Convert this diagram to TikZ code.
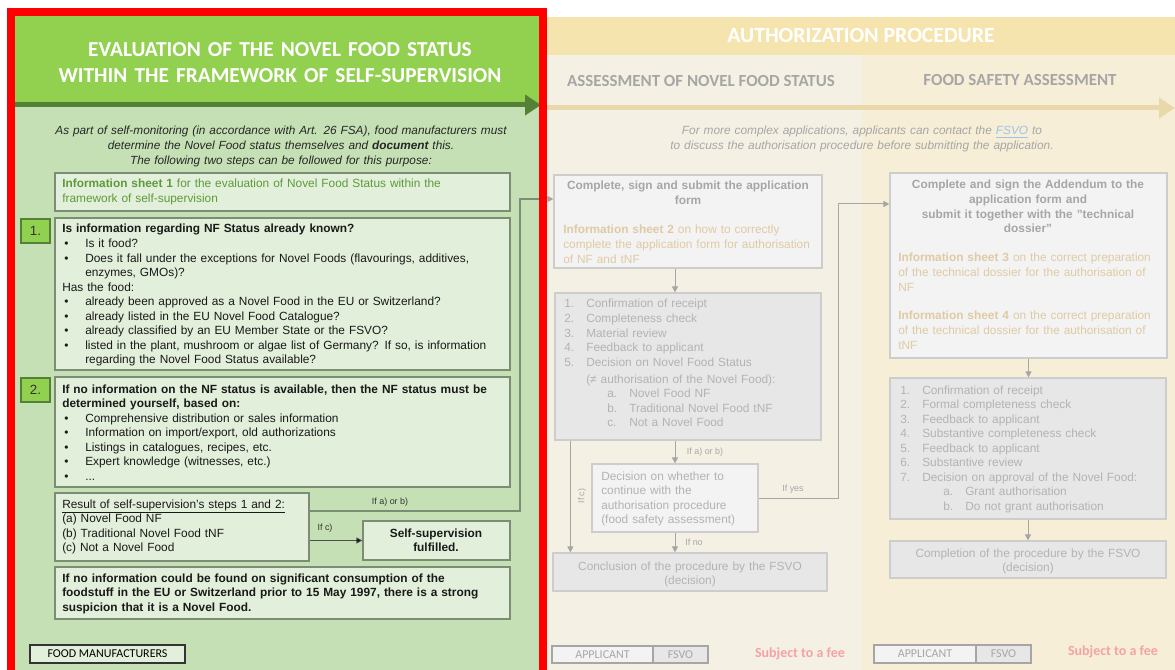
\documentclass[tikz,border=0pt]{standalone}
\usepackage{fontspec}
\setmainfont{Liberation Sans}
\newfontfamily\headfont{Carlito}
\usetikzlibrary{arrows.meta,calc,fit}

\definecolor{redframe}{HTML}{FF0000}
\definecolor{hdgreen}{HTML}{92D050}
\definecolor{pnlgreen}{HTML}{C5E0B4}
\definecolor{dkgreen}{HTML}{548235}
\definecolor{boxgreen}{HTML}{E2EFDA}
\definecolor{boxline}{HTML}{7D8C74}
\definecolor{sheetgreen}{HTML}{5E9A3C}
\definecolor{hdtan}{HTML}{F6E4AE}
\definecolor{colA}{HTML}{F4F1E4}
\definecolor{colB}{HTML}{F6EED6}
\definecolor{arrtan}{HTML}{E9D8AB}
\definecolor{greytxt}{HTML}{A6A6A6}
\definecolor{lighttxt}{HTML}{B3B3B3}
\definecolor{tantxt}{HTML}{DFCAA4}
\definecolor{boxlite}{HTML}{F3F3F3}
\definecolor{boxgrey}{HTML}{E7E7E7}
\definecolor{greyline}{HTML}{CDCDCD}
\definecolor{linkblue}{HTML}{9DC3E6}
\definecolor{feepink}{HTML}{F4A3A3}

\newcommand{\bul}[1]{\hspace*{1.5pt}\makebox[15.75pt][l]{\textbullet}#1}
\newcommand{\ind}[1]{\hspace*{17.25pt}#1}
\newcommand{\numitm}[2]{\makebox[16.5pt][l]{#1}#2}
\newcommand{\subitm}[2]{\hspace*{32.25pt}\makebox[16.5pt][l]{#1}#2}

\tikzset{
  gbox/.style={draw=boxline, fill=boxgreen, line width=0.9pt, inner sep=0pt},
  numbox/.style={draw=dkgreen, fill=hdgreen, line width=0.9pt, inner sep=0pt},
  lbox/.style={draw=greyline, fill=boxlite, line width=0.9pt, inner sep=0pt},
  dbox/.style={draw=greyline, fill=boxgrey, line width=0.9pt, inner sep=0pt},
  legbox/.style={draw=greytxt, line width=0.9pt, inner sep=0pt},
  legtxt/.style={inner sep=0pt, font=\headfont\fontsize{9}{10}\selectfont},
  feetxt/.style={inner sep=0pt, text=feepink, font=\headfont\bfseries\fontsize{10.5}{12}\selectfont},
  txt/.style={inner sep=0pt, anchor=base west, align=left, text width=12cm, font=\fontsize{8.9}{10.9}\selectfont},
  ctxt/.style={inner sep=0pt, anchor=base, align=center, text width=#1, font=\fontsize{8.9}{10.9}\selectfont},
  lab/.style={inner sep=0pt, font=\fontsize{6.7}{7.5}\selectfont},
  conn/.style={draw=greytxt, line width=0.75pt, -{Triangle[length=4.5pt,width=4.5pt]}},
  blk/.style={draw=black!70, line width=0.75pt, -{Triangle[length=4.5pt,width=4.5pt,fill=black]}},
}

\begin{document}
\begin{tikzpicture}[x=0.75pt,y=0.75pt,yscale=-1,xscale=1]
\useasboundingbox (0,0) rectangle (1175,670);
\clip (0,0) rectangle (1175,670);

%Shape: right panel
\fill[hdtan] (547,17) rectangle (1175,55);
\fill[colA] (547,55) rectangle (862,690);
\fill[colB] (862,55) rectangle (1175,690);
\draw[arrtan, line width=3.75pt, -{Triangle[length=12pt,width=15pt]}] (547,108) -- (1175,108);

% Text Node
\node[inner sep=0pt, anchor=base, text=white, font=\headfont\bfseries\fontsize{16.3}{19.5}\selectfont] (authhd) at (861,43) {AUTHORIZATION PROCEDURE};
\node[inner sep=0pt, anchor=base, text=greytxt, font=\headfont\bfseries\fontsize{12.7}{14}\selectfont] (nfhd) at (701,87) {ASSESSMENT OF NOVEL FOOD STATUS};
\node[inner sep=0pt, anchor=base, text=greytxt, font=\headfont\bfseries\fontsize{12.7}{14}\selectfont] (fsahd) at (1020,86) {FOOD SAFETY ASSESSMENT};
\node[ctxt=12cm, text=greytxt, font=\itshape\fontsize{8.9}{10.9}\selectfont] (complex) at (862,135) {For more complex applications, applicants can contact the \textcolor{linkblue}{\underline{FSVO}} to\\to discuss the authorisation procedure before submitting the application.};

%Shape: novel food status column
\node[lbox, fit={(554,175) (822,268)}] (appform) {};
\node[ctxt=7cm, text=greytxt, font=\bfseries\fontsize{8.9}{10.9}\selectfont] (appt) at (688,190) {Complete, sign and submit the application\\form};
\node[txt, text=tantxt] (sheet2) at (563,234) {\textbf{Information sheet 2} on how to correctly\\complete the application form for authorisation\\of NF and tNF};

\node[dbox, fit={(555,293) (821,440)}] (list1) {};
\node[txt, text=lighttxt] (list1t) at (564,308) {\numitm{1.}{Confirmation of receipt}\\
\numitm{2.}{Completeness check}\\
\numitm{3.}{Material review}\\
\numitm{4.}{Feedback to applicant}\\
\numitm{5.}{Decision on Novel Food Status}\\[2pt]
\hspace*{16.5pt}(≠ authorisation of the Novel Food):\\
\subitm{a.}{Novel Food NF}\\
\subitm{b.}{Traditional Novel Food tNF}\\
\subitm{c.}{Not a Novel Food}};

\node[lbox, fit={(592,464) (758,532)}] (dec) {};
\node[txt, text=lighttxt] (dect) at (601,480) {Decision on whether to\\continue with the\\authorisation procedure\\(food safety assessment)};

\node[dbox, fit={(553,553) (827,591)}] (concl) {};
\node[ctxt=7cm, text=lighttxt] (conclt) at (690,570) {Conclusion of the procedure by the FSVO\\(decision)};

%Shape: food safety column
\node[lbox, fit={(890,173) (1167,358)}] (add) {};
\node[ctxt=7cm, text=greytxt, font=\bfseries\fontsize{8.9}{10.9}\selectfont] (addt) at (1028,189) {Complete and sign the Addendum to the\\application form and\\submit it together with the "technical\\dossier"};
\node[txt, text=tantxt] (sheet3) at (898,262) {\textbf{Information sheet 3} on the correct preparation\\of the technical dossier for the authorisation of\\NF};
\node[txt, text=tantxt] (sheet4) at (898,320) {\textbf{Information sheet 4} on the correct preparation\\of the technical dossier for the authorisation of\\tNF};

\node[dbox, fit={(890,378) (1166,519)}] (list2) {};
\node[txt, text=lighttxt] (list2t) at (900,394) {\numitm{1.}{Confirmation of receipt}\\
\numitm{2.}{Formal completeness check}\\
\numitm{3.}{Feedback to applicant}\\
\numitm{4.}{Substantive completeness check}\\
\numitm{5.}{Feedback to applicant}\\
\numitm{6.}{Substantive review}\\
\numitm{7.}{Decision on approval of the Novel Food:}\\
\subitm{a.}{Grant authorisation}\\
\subitm{b.}{Do not grant authorisation}};

\node[dbox, fit={(890,541) (1166,578)}] (compl) {};
\node[ctxt=7cm, text=lighttxt] (complt) at (1028,557) {Completion of the procedure by the FSVO\\(decision)};

%Straight Lines
\draw[conn] (dec.north |- appform.south) -- (dec.north |- list1.north);
\draw[conn] (dec.north |- list1.south) -- (dec.north);
\draw[conn] (dec.south) -- (dec.south |- concl.north);
\coordinate (ifcx) at ($(list1.south west)+(16,0)$);
\draw[conn] (ifcx) -- (ifcx |- concl.north);
\coordinate (yes1) at (838,204);
\draw[conn] (dec.east) -| (yes1) -- (yes1 -| add.west);
\draw[conn] (add.south) -- (add.south |- list2.north);
\draw[conn] (list2.south) -- (compl.north);

% Text Node
\node[lab, text=greytxt] (ifab1) at (705,452) {If a) or b)};
\node[lab, text=greytxt, rotate=90] (ifc1) at (582,496) {If c)};
\node[lab, text=greytxt] (ifno) at (694,542) {If no};
\node[lab, text=greytxt] (ifyes) at (793,489) {If yes};

%Shape: legends
\node[legbox, fill=boxlite, fit={(552,646) (653,663)}] (appl1) {};
\node[legbox, fill=boxgrey, fit={(653,646) (708,663)}] (fsvo1) {};
\node[legtxt, text=greytxt] (appl1t) at (appl1) {APPLICANT};
\node[legtxt, text=greytxt] (fsvo1t) at (fsvo1) {FSVO};
\node[feetxt] (fee1) at (800,654) {Subject to a fee};
\node[legbox, fill=boxlite, fit={(874,645) (976,663)}] (appl2) {};
\node[legbox, fill=boxgrey, fit={(976,645) (1031,663)}] (fsvo2) {};
\node[legtxt, text=greytxt] (appl2t) at (appl2) {APPLICANT};
\node[legtxt, text=greytxt] (fsvo2t) at (fsvo2) {FSVO};
\node[feetxt] (fee2) at (1113,652) {Subject to a fee};

%Shape: self-supervision panel
\fill[pnlgreen] (15,105) rectangle (539,690);
\fill[hdgreen] (15,16) rectangle (539,105);
\draw[dkgreen, line width=3.75pt, -{Triangle[length=12pt,width=15pt]}] (15,105) -- (541,105);

% Text Node
\node[ctxt=12cm, text=white, font=\headfont\bfseries\fontsize{16}{19.5}\selectfont] (title) at (280,57) {EVALUATION OF THE NOVEL FOOD STATUS\\WITHIN THE FRAMEWORK OF SELF-SUPERVISION};
\node[ctxt=12cm, text=black!85, font=\itshape\fontsize{8.85}{10.9}\selectfont] (intro) at (281,135) {As part of self-monitoring (in accordance with Art. 26 FSA), food manufacturers must\\determine the Novel Food status themselves and \textbf{document} this.\\The following two steps can be followed for this purpose:};

\node[gbox, fit={(55,173) (510,211)}] (info1) {};
\node[txt, text=sheetgreen] (info1t) at (62,188) {\textbf{Information sheet 1} for the evaluation of Novel Food Status within the\\framework of self-supervision};

\node[numbox, fit={(21,219) (50,243)}] (num1) {};
\node[inner sep=0pt, font=\fontsize{10}{12}\selectfont, text=black!80] (num1t) at (num1) {1.};
\node[gbox, fit={(55,218) (510,370)}] (step1) {};
\node[txt, text=black!90] (step1t) at (62,233) {\textbf{Is information regarding NF Status already known?}\\
\bul{Is it food?}\\
\bul{Does it fall under the exceptions for Novel Foods (flavourings, additives,}\\
\ind{enzymes, GMOs)?}\\
Has the food:\\
\bul{already been approved as a Novel Food in the EU or Switzerland?}\\
\bul{already listed in the EU Novel Food Catalogue?}\\
\bul{already classified by an EU Member State or the FSVO?}\\
\bul{listed in the plant, mushroom or algae list of Germany? If so, is information}\\
\ind{regarding the Novel Food Status available?}};

\node[numbox, fit={(21,378) (50,402)}] (num2) {};
\node[inner sep=0pt, font=\fontsize{10}{12}\selectfont, text=black!80] (num2t) at (num2) {2.};
\node[gbox, fit={(55,377) (510,487)}] (step2) {};
\node[txt, text=black!90] (step2t) at (62,393) {\textbf{If no information on the NF status is available, then the NF status must be}\\
\textbf{determined yourself, based on:}\\
\bul{Comprehensive distribution or sales information}\\
\bul{Information on import/export, old authorizations}\\
\bul{Listings in catalogues, recipes, etc.}\\
\bul{Expert knowledge (witnesses, etc.)}\\
\bul{...}};

\node[gbox, fit={(55,493) (309,561)}] (result) {};
\node[txt, text=black!90] (resultt) at (62,508) {\underline{Result of self-supervision's steps 1 and 2:}\\(a) Novel Food NF\\(b) Traditional Novel Food tNF\\(c) Not a Novel Food};

\node[gbox, fit={(363,521) (510,560)}] (selfsup) {};
\node[ctxt=4cm, text=black!90, font=\bfseries\fontsize{8.9}{10.9}\selectfont] (selfsupt) at (436,537) {Self-supervision\\fulfilled.};

\node[gbox, fit={(55,567) (510,619)}] (note) {};
\node[txt, text=black!90, font=\bfseries\fontsize{8.9}{10.9}\selectfont] (notet) at (62,582) {If no information could be found on significant consumption of the\\foodstuff in the EU or Switzerland prior to 15 May 1997, there is a strong\\suspicion that it is a Novel Food.};

\node[draw=black!80, fill=boxgreen, line width=0.9pt, inner sep=0pt, fit={(30,645) (185,663)}] (foodman) {};
\node[legtxt] (foodmant) at (foodman) {FOOD MANUFACTURERS};

%Straight Lines
\draw[blk] (result.east |- selfsup.west) -- (selfsup.west);
\coordinate (ab1) at (520,511);
\coordinate (ab2) at (520,199);
\draw[draw=boxline, line width=0.9pt] (result.east |- ab1) -- (ab1) -- (ab2) -- ($(ab2 -| appform.west)+(-10,0)$);
\draw[conn] ($(ab2 -| appform.west)+(-10,0)$) -- (ab2 -| appform.west);

% Text Node
\node[lab, text=black!80] (ifc) at (325,528) {If c)};
\node[lab, text=black!80] (ifab) at (390,502) {If a) or b)};

%Shape: red frame
\draw[redframe, line width=6pt] (11,12) rectangle (543,700);

\end{tikzpicture}
\end{document}
